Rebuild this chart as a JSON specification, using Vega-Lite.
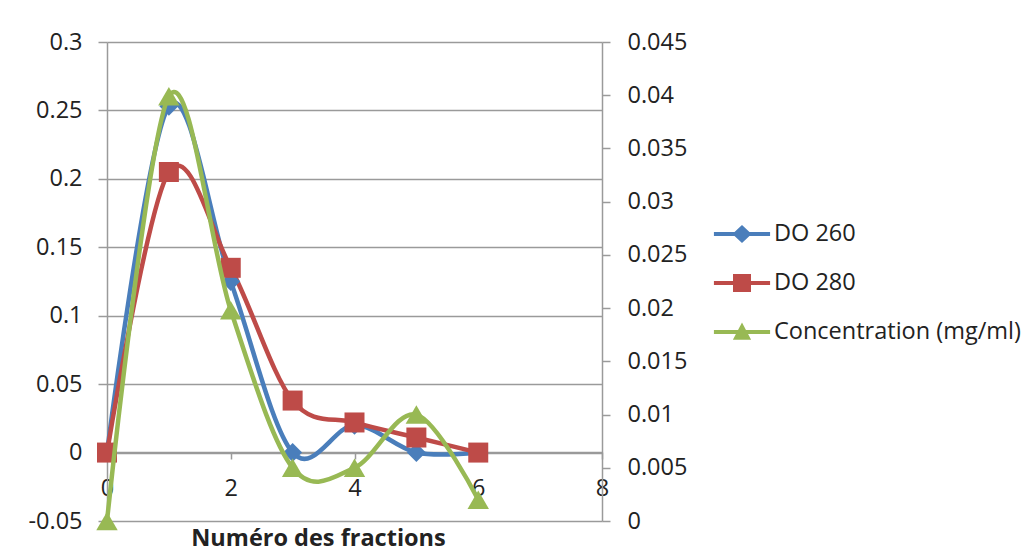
{
  "$schema": "https://vega.github.io/schema/vega-lite/v6.json",
  "autosize": {"type": "none"},
  "width": 495,
  "height": 479,
  "padding": {"left": 107, "top": 42, "right": 432, "bottom": 26},
  "background": "white",
  "config": {
    "font": "Open Sans",
    "view": {"stroke": null},
    "axis": {"labelFont": "Open Sans", "labelFontSize": 23.5, "labelColor": "#222222", "titleFont": "Open Sans"},
    "legend": {"labelFont": "Open Sans", "labelFontSize": 23.5, "labelColor": "#222222"}
  },
  "data": {
    "values": [
      {"x": 0, "series": "DO 260", "v": 0},
      {"x": 1, "series": "DO 260", "v": 0.253},
      {"x": 2, "series": "DO 260", "v": 0.125},
      {"x": 3, "series": "DO 260", "v": 0},
      {"x": 4, "series": "DO 260", "v": 0.02},
      {"x": 5, "series": "DO 260", "v": 0},
      {"x": 6, "series": "DO 260", "v": 0},
      {"x": 0, "series": "DO 280", "v": 0},
      {"x": 1, "series": "DO 280", "v": 0.205},
      {"x": 2, "series": "DO 280", "v": 0.135},
      {"x": 3, "series": "DO 280", "v": 0.038},
      {"x": 4, "series": "DO 280", "v": 0.022},
      {"x": 5, "series": "DO 280", "v": 0.011},
      {"x": 6, "series": "DO 280", "v": 0},
      {"x": 0, "series": "Concentration (mg/ml)", "v": 0},
      {"x": 1, "series": "Concentration (mg/ml)", "v": 0.0399},
      {"x": 2, "series": "Concentration (mg/ml)", "v": 0.0198},
      {"x": 3, "series": "Concentration (mg/ml)", "v": 0.005},
      {"x": 4, "series": "Concentration (mg/ml)", "v": 0.005},
      {"x": 5, "series": "Concentration (mg/ml)", "v": 0.01},
      {"x": 6, "series": "Concentration (mg/ml)", "v": 0.002}
    ]
  },
  "encoding": {
    "x": {
      "field": "x", "type": "quantitative",
      "scale": {"domain": [0, 8], "nice": false, "zero": false},
      "axis": {
        "values": [0, 2, 4, 6, 8],
        "offset": -69,
        "grid": false,
        "domainColor": "#9a9a9a", "domainWidth": 1.5,
        "tickColor": "#9a9a9a", "tickWidth": 1.5, "tickSize": 7,
        "labelPadding": 17,
        "labelFlush": false,
        "title": "Numéro des fractions",
        "titleFontSize": 23.5, "titleFontWeight": "bold", "titleColor": "#222222",
        "titleX": 211, "titleY": 93, "titleBaseline": "alphabetic", "titleAlign": "center"
      }
    },
    "color": {"field": "series", "type": "nominal",
      "scale": {"domain": ["DO 260", "DO 280", "Concentration (mg/ml)"], "range": ["#4A7EBB", "#BE4B48", "#98B954"]},
      "legend": {
        "title": null,
        "orient": "none",
        "legendX": 611,
        "legendY": 168,
        "padding": 0,
        "symbolSize": 2304,
        "symbolStrokeWidth": 0,
        "labelOffset": 8,
        "labelLimit": 400,
        "rowPadding": 13,
        "labelFontSize": 23.5,
        "encode": {
          "symbols": {
            "update": {
              "shape": {"signal": "datum.value === 'DO 260' ? 'M-1.17,-0.085H1.17V0.085H-1.17Z M0,-0.38L0.4,0L0,0.38L-0.4,0Z' : datum.value === 'DO 280' ? 'M-1.17,-0.085H1.17V0.085H-1.17Z M-0.375,-0.375H0.375V0.375H-0.375Z' : 'M-1.17,-0.085H1.17V0.085H-1.17Z M0,-0.4L0.38,0.32L-0.38,0.32Z'"},
              "size": {"value": 2304},
              "fill": {"scale": "color", "field": "value"},
              "stroke": {"value": "transparent"},
              "strokeWidth": {"value": 0},
              "opacity": {"value": 1}
            }
          }
        }
      }
    }
  },
  "layer": [
    {
      "transform": [{"filter": "datum.series !== 'Concentration (mg/ml)'"}],
      "encoding": {
        "y": {
          "field": "v", "type": "quantitative",
          "scale": {"domain": [-0.05, 0.3], "nice": false, "zero": false},
          "axis": {
            "orient": "left",
            "values": [-0.05, 0, 0.05, 0.1, 0.15, 0.2, 0.25, 0.3],
            "labelExpr": "'' + round(datum.value*100)/100",
            "grid": true, "gridColor": "#9a9a9a", "gridWidth": 1.5,
            "domainColor": "#9a9a9a", "domainWidth": 1.5,
            "tickColor": "#9a9a9a", "tickWidth": 1.5, "tickSize": 9,
            "labelPadding": 16,
            "labelFlush": false,
            "title": null
          }
        }
      },
      "layer": [
        {
          "mark": {"type": "line", "interpolate": "cardinal", "strokeWidth": 4.5},
          "encoding": {
            "order": {"field": "x", "type": "quantitative"}
          }
        },
        {
          "transform": [{"filter": "datum.series === 'DO 260'"}],
          "mark": {"type": "point", "filled": true, "opacity": 1, "strokeWidth": 0, "shape": "diamond", "size": 360},
          "encoding": {}
        },
        {
          "transform": [{"filter": "datum.series === 'DO 280'"}],
          "mark": {"type": "point", "filled": true, "opacity": 1, "strokeWidth": 0, "shape": "square", "size": 400},
          "encoding": {}
        }
      ]
    },
    {
      "transform": [{"filter": "datum.series === 'Concentration (mg/ml)'"}],
      "encoding": {
        "y": {
          "field": "v", "type": "quantitative",
          "scale": {"domain": [0, 0.045], "nice": false, "zero": false},
          "axis": {
            "orient": "right",
            "values": [0, 0.005, 0.01, 0.015, 0.02, 0.025, 0.03, 0.035, 0.04, 0.045],
            "labelExpr": "'' + round(datum.value*1000)/1000",
            "grid": false,
            "domainColor": "#9a9a9a", "domainWidth": 1.5,
            "tickColor": "#9a9a9a", "tickWidth": 1.5, "tickSize": 8,
            "labelPadding": 17,
            "labelFlush": false,
            "title": null
          }
        }
      },
      "layer": [
        {
          "mark": {"type": "line", "interpolate": "cardinal", "strokeWidth": 4.5},
          "encoding": {
            "order": {"field": "x", "type": "quantitative"}
          }
        },
        {
          "mark": {"type": "point", "filled": true, "opacity": 1, "strokeWidth": 0, "shape": "triangle-up", "size": 460},
          "encoding": {}
        }
      ]
    }
  ],
  "resolve": {"scale": {"y": "independent"}}
}
